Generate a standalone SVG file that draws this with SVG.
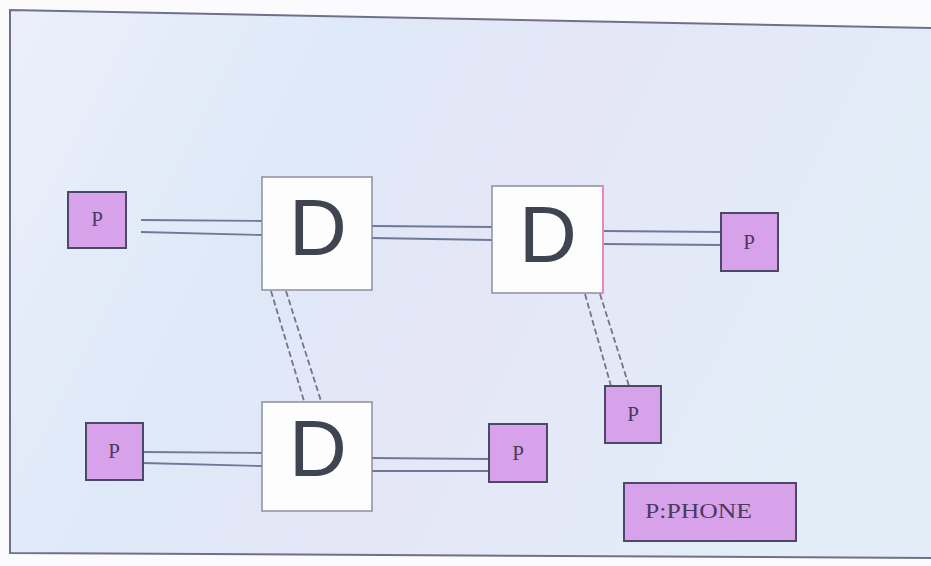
<svg xmlns="http://www.w3.org/2000/svg" width="931" height="566" viewBox="0 0 931 566">
  <defs>
    <linearGradient id="paper" x1="0" y1="0" x2="1" y2="0.3">
      <stop offset="0" stop-color="#eceffa"/>
      <stop offset="0.35" stop-color="#dee9f8"/>
      <stop offset="0.6" stop-color="#e5e6f6"/>
      <stop offset="1" stop-color="#e2edf8"/>
    </linearGradient>
    <style>
      .phone rect { fill: #d7a2ea; stroke: #4c4868; stroke-width: 2; }
      .phone text { font-family: "Liberation Serif", serif; font-size: 21px; fill: #4a3a5e; text-anchor: middle; }
      .switch rect { fill: #fdfdfd; stroke: #8c8ea0; stroke-width: 1.5; }
      .switch text { font-family: "Liberation Sans", Arial, sans-serif; font-size: 80px; fill: #404450; text-anchor: middle; }
      .wire line { stroke: #6c7a98; stroke-width: 1.8; }
      .wire .dash { stroke-dasharray: 6 3; stroke: #7a7090; }
    </style>
  </defs>

  <!-- page and frame -->
  <rect width="931" height="566" fill="#fbfbfd"/>
  <polygon points="10,10 931,28 931,558 10,553" fill="url(#paper)"/>
  <polyline points="931,28 10,10 10,553 931,558" fill="none" stroke="#70708a" stroke-width="2"/>

  <!-- connectors: paired lines between exchanges and phones -->
  <g id="connectors" class="wire">
    <line x1="141" y1="220" x2="262" y2="221"/>
    <line x1="141" y1="232" x2="262" y2="235"/>
    <line x1="372" y1="226" x2="492" y2="227"/>
    <line x1="372" y1="238" x2="492" y2="240"/>
    <line x1="603" y1="231" x2="721" y2="232"/>
    <line x1="603" y1="244" x2="721" y2="245"/>
    <line class="dash" x1="271" y1="291" x2="304" y2="401"/>
    <line class="dash" x1="286" y1="291" x2="321" y2="401"/>
    <line class="dash" x1="585" y1="294" x2="611" y2="386"/>
    <line class="dash" x1="600" y1="294" x2="629" y2="386"/>
    <line x1="143" y1="452" x2="262" y2="453"/>
    <line x1="143" y1="463" x2="262" y2="466"/>
    <line x1="372" y1="458" x2="489" y2="459"/>
    <line x1="372" y1="471" x2="489" y2="471"/>
  </g>

  <!-- exchanges -->
  <g id="d1" class="switch">
    <rect x="262" y="177" width="110" height="113"/>
    <text x="318" y="255">D</text>
  </g>
  <g id="d2" class="switch">
    <rect x="492" y="186" width="111" height="107"/>
    <text x="548" y="262">D</text>
    <line x1="603" y1="186" x2="603" y2="293" stroke="#e08ac0" stroke-width="2"/>
  </g>
  <g id="d3" class="switch">
    <rect x="262" y="402" width="110" height="109"/>
    <text x="318" y="476">D</text>
  </g>

  <!-- phones -->
  <g id="p1" class="phone">
    <rect x="68" y="192" width="58" height="56"/>
    <text x="97" y="226">P</text>
  </g>
  <g id="p2" class="phone">
    <rect x="721" y="213" width="57" height="58"/>
    <text x="749" y="249">P</text>
  </g>
  <g id="p3" class="phone">
    <rect x="86" y="423" width="57" height="57"/>
    <text x="114" y="458">P</text>
  </g>
  <g id="p4" class="phone">
    <rect x="489" y="424" width="58" height="58"/>
    <text x="518" y="460">P</text>
  </g>
  <g id="p5" class="phone">
    <rect x="605" y="386" width="56" height="57"/>
    <text x="633" y="421">P</text>
  </g>

  <!-- legend -->
  <g id="legend" class="phone">
    <rect x="624" y="483" width="172" height="58"/>
    <text x="645" y="518" font-size="23" text-anchor="start" textLength="107" lengthAdjust="spacingAndGlyphs" style="text-anchor:start">P:PHONE</text>
  </g>
</svg>
